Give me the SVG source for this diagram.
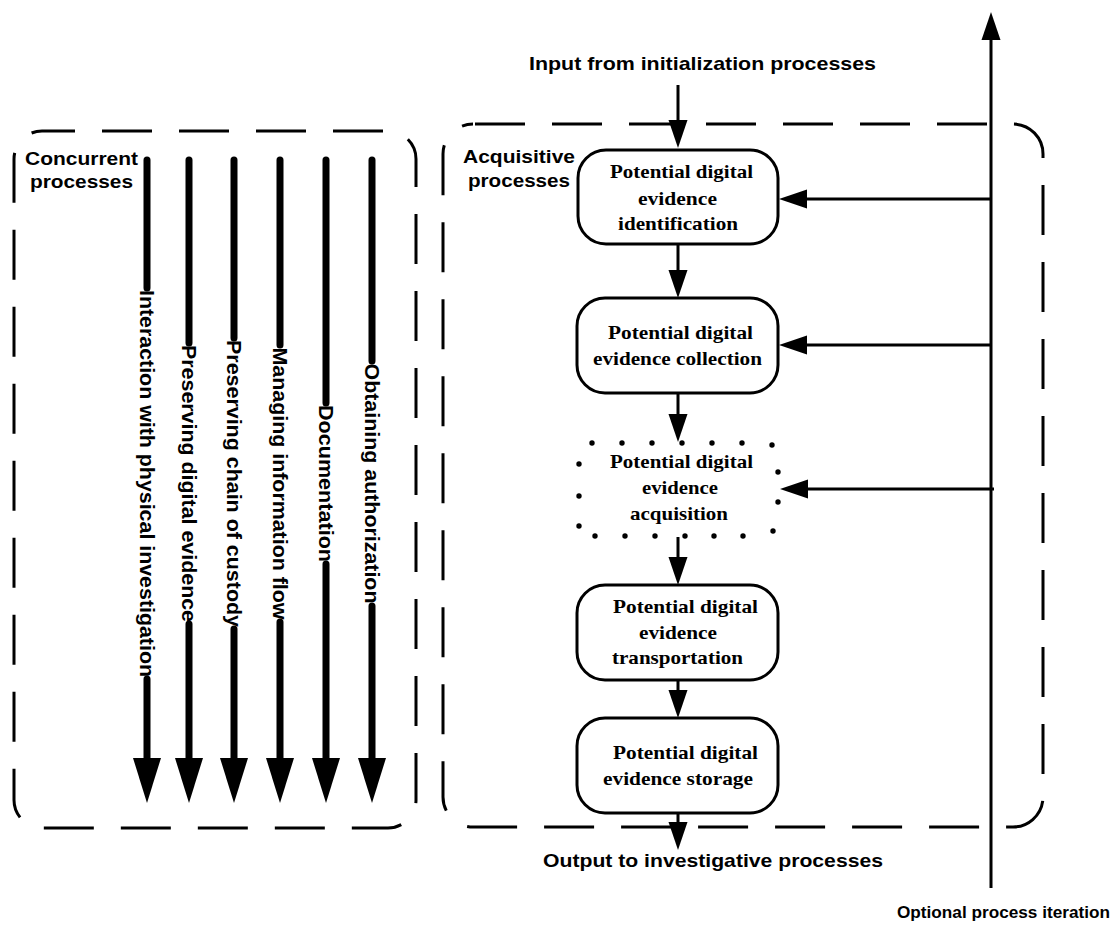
<svg xmlns="http://www.w3.org/2000/svg" width="1115" height="925" viewBox="0 0 1115 925">
<style>
.bg{fill:#fff}
.dash{fill:none;stroke:#000;stroke-width:3;stroke-dasharray:50 27}
.box{fill:#fff;stroke:#000;stroke-width:3}
.dot{fill:#000}
.serif{font-family:"Liberation Serif","Times New Roman",serif;font-weight:bold;font-size:19px;fill:#000;text-anchor:middle}
.sans{font-family:"Liberation Sans",Arial,sans-serif;font-weight:bold;font-size:19px;fill:#000}
.vlab{font-family:"Liberation Sans",Arial,sans-serif;font-weight:bold;font-size:21px;fill:#000;text-anchor:middle;dominant-baseline:central}
.thick{fill:none;stroke:#000;stroke-width:7;stroke-linecap:round;marker-end:url(#big)}
.thin{fill:none;stroke:#000;stroke-width:3;marker-end:url(#small)}
</style>
<defs>
<marker id="big" markerUnits="userSpaceOnUse" markerWidth="46" markerHeight="28" refX="0" refY="14" orient="auto" overflow="visible">
<path d="M0,0 L45,14 L0,28 Z" fill="#000"/>
</marker>
<marker id="small" markerUnits="userSpaceOnUse" markerWidth="28" markerHeight="19" refX="0" refY="9.5" orient="auto" overflow="visible">
<path d="M0,0 L28,9.5 L0,19 Z" fill="#000"/>
</marker>
</defs>
<rect class="bg" width="1115" height="925"/>

<g id="concurrent-group">
<rect class="dash" x="14" y="131" width="402" height="697" rx="28" style="stroke-dashoffset:17"/>
<text class="sans" x="25" y="165" textLength="113" lengthAdjust="spacingAndGlyphs">Concurrent</text>
<text class="sans" x="30" y="188" textLength="103" lengthAdjust="spacingAndGlyphs">processes</text>
</g>

<g id="acquisitive-group">
<rect class="dash" x="443" y="124" width="600" height="703" rx="30" style="stroke-dashoffset:75"/>
<text class="sans" x="463" y="163" textLength="112" lengthAdjust="spacingAndGlyphs">Acquisitive</text>
<text class="sans" x="468" y="187" textLength="102" lengthAdjust="spacingAndGlyphs">processes</text>
</g>

<g id="connectors">
<path class="thick" d="M147,160 V288 M147,679 V758"/>
<path class="thick" d="M189,160 V343 M189,624 V758"/>
<path class="thick" d="M234,160 V338 M234,629 V758"/>
<path class="thick" d="M280,160 V345 M280,622 V758"/>
<path class="thick" d="M326,160 V403 M326,564 V758"/>
<path class="thick" d="M372,160 V361 M372,606 V758"/>
<path class="thin" d="M678,85 V120"/>
<path class="thin" d="M678,244 V270"/>
<path class="thin" d="M678,393 V414"/>
<path class="thin" d="M678,537 V557"/>
<path class="thin" d="M678,680 V690"/>
<path class="thin" d="M678,813 V822"/>
<path class="thin" d="M991,888 V40"/>
<path class="thin" d="M991,199 H807"/>
<path class="thin" d="M991,345 H807"/>
<path class="thin" d="M994,489 H808"/>
</g>

<g id="concurrent-labels">
<text class="vlab" transform="translate(147,483.5) rotate(90)" textLength="387" lengthAdjust="spacingAndGlyphs">Interaction with physical investigation</text>
<text class="vlab" transform="translate(189,483.5) rotate(90)" textLength="277" lengthAdjust="spacingAndGlyphs">Preserving digital evidence</text>
<text class="vlab" transform="translate(234,483.5) rotate(90)" textLength="287" lengthAdjust="spacingAndGlyphs">Preserving chain of custody</text>
<text class="vlab" transform="translate(280,483.5) rotate(90)" textLength="272" lengthAdjust="spacingAndGlyphs">Managing information flow</text>
<text class="vlab" transform="translate(326,483.5) rotate(90)" textLength="157" lengthAdjust="spacingAndGlyphs">Documentation</text>
<text class="vlab" transform="translate(372,483.5) rotate(90)" textLength="240" lengthAdjust="spacingAndGlyphs">Obtaining authorization</text>
</g>

<g id="identification">
<rect class="box" x="578" y="150" width="200" height="94" rx="28"/>
<text class="serif" x="681.5" y="178" textLength="143" lengthAdjust="spacingAndGlyphs">Potential digital</text>
<text class="serif" x="677.5" y="205" textLength="79" lengthAdjust="spacingAndGlyphs">evidence</text>
<text class="serif" x="678" y="230" textLength="120" lengthAdjust="spacingAndGlyphs">identification</text>
</g>

<g id="collection">
<rect class="box" x="577" y="298" width="201" height="95" rx="28"/>
<text class="serif" x="680.5" y="339" textLength="145" lengthAdjust="spacingAndGlyphs">Potential digital</text>
<text class="serif" x="677.5" y="365" textLength="169" lengthAdjust="spacingAndGlyphs">evidence collection</text>
</g>

<g id="acquisition">
<circle class="dot" cx="592" cy="443" r="2.7"/><circle class="dot" cx="622" cy="443" r="2.7"/><circle class="dot" cx="652" cy="443" r="2.7"/><circle class="dot" cx="682" cy="443" r="2.7"/><circle class="dot" cx="712" cy="443" r="2.7"/><circle class="dot" cx="742" cy="443" r="2.7"/><circle class="dot" cx="772" cy="445" r="2.7"/>
<circle class="dot" cx="778" cy="472" r="2.7"/><circle class="dot" cx="778" cy="502" r="2.7"/><circle class="dot" cx="773" cy="531" r="2.7"/>
<circle class="dot" cx="595" cy="536" r="2.7"/><circle class="dot" cx="625" cy="536" r="2.7"/><circle class="dot" cx="655" cy="536" r="2.7"/><circle class="dot" cx="685" cy="536" r="2.7"/><circle class="dot" cx="714" cy="536" r="2.7"/><circle class="dot" cx="743" cy="536" r="2.7"/>
<circle class="dot" cx="579" cy="464" r="2.7"/><circle class="dot" cx="579" cy="496" r="2.7"/><circle class="dot" cx="579" cy="526" r="2.7"/>
<text class="serif" x="681.5" y="468" textLength="143" lengthAdjust="spacingAndGlyphs">Potential digital</text>
<text class="serif" x="680" y="494" textLength="76" lengthAdjust="spacingAndGlyphs">evidence</text>
<text class="serif" x="679" y="520" textLength="98" lengthAdjust="spacingAndGlyphs">acquisition</text>
</g>

<g id="transportation">
<rect class="box" x="577" y="585" width="201" height="95" rx="28"/>
<text class="serif" x="685.5" y="613" textLength="145" lengthAdjust="spacingAndGlyphs">Potential digital</text>
<text class="serif" x="678" y="639" textLength="78" lengthAdjust="spacingAndGlyphs">evidence</text>
<text class="serif" x="677.5" y="664" textLength="131" lengthAdjust="spacingAndGlyphs">transportation</text>
</g>

<g id="storage">
<rect class="box" x="577" y="718" width="201" height="95" rx="28"/>
<text class="serif" x="685.5" y="759" textLength="145" lengthAdjust="spacingAndGlyphs">Potential digital</text>
<text class="serif" x="678" y="785" textLength="150" lengthAdjust="spacingAndGlyphs">evidence storage</text>
</g>

<g id="labels">
<text class="sans" x="529" y="70" textLength="347" lengthAdjust="spacingAndGlyphs">Input from initialization processes</text>
<text class="sans" x="543" y="867" textLength="340" lengthAdjust="spacingAndGlyphs">Output to investigative processes</text>
<text class="sans" x="897" y="918" style="font-size:17px" textLength="213" lengthAdjust="spacingAndGlyphs">Optional process iteration</text>
</g>
</svg>
